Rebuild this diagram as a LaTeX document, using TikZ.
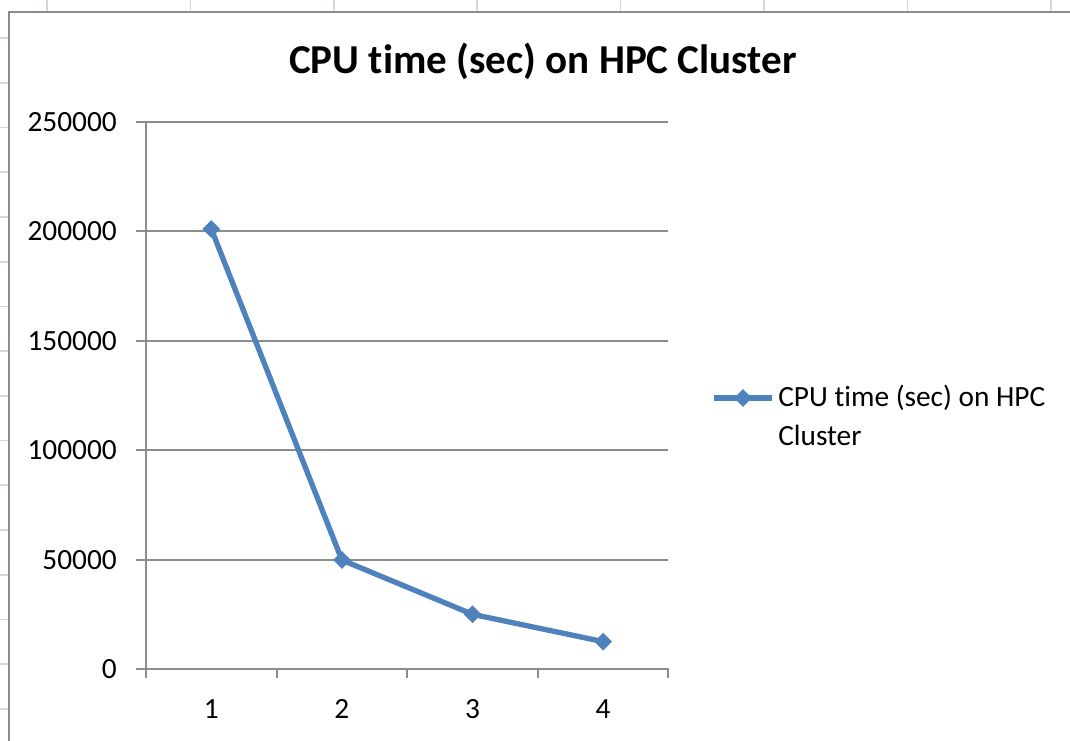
\documentclass[tikz,border=0pt]{standalone}
\usepackage{fontspec}
\setmainfont{Carlito}[Ligatures=NoCommon]
\usetikzlibrary{shapes.geometric}
\definecolor{series}{HTML}{4F81BD}
\definecolor{axisgray}{HTML}{8C8C8C}
\definecolor{sheetgrid}{HTML}{D0D7E5}
\begin{document}
\begin{tikzpicture}[x=0.75pt,y=-0.75pt,
  sheetline/.style={draw=sheetgrid,line width=1.3pt},
  frameline/.style={draw=axisgray,line width=1.5pt},
  gridline/.style={draw=axisgray,line width=1.4pt},
  serieslink/.style={draw=series,line width=4pt,line join=round,line cap=round},
  marker/.style={diamond,fill=series,draw=none,inner sep=0pt,minimum size=13.5pt},
  ticklabel/.style={font=\fontsize{22}{26}\selectfont,inner sep=0pt},
  titlelabel/.style={font=\fontsize{30.8}{36}\selectfont\bfseries,inner sep=0pt}]
\useasboundingbox (0,0) rectangle (1070,740);
% spreadsheet grid behind the chart
\foreach \i in {0,...,7} \draw[sheetline] ({47+143.4*\i},0) -- ({47+143.4*\i},12);
\foreach \i in {0,...,15} \draw[sheetline] (0,{38+44.73*\i}) -- (9,{38+44.73*\i});
% chart frame
\draw[frameline] (9,745) -- (9,12) -- (1075,12);
% title
\node[titlelabel,anchor=base] (title) at (543,73) {CPU time (sec) on HPC Cluster};
% horizontal gridlines and y labels
\foreach \k/\lab in {1/50000,2/100000,3/150000,4/200000,5/250000} {
  \draw[gridline] (136,{669-109.4*\k}) -- (668,{669-109.4*\k});
  \node[ticklabel,anchor=east] (y\k) at (117,{669-109.4*\k}) {\lab};
}
\node[ticklabel,anchor=east] (y0) at (117,669) {0};
% axes
\draw[gridline] (136,669) -- (669,669);
\draw[gridline] (146,122) -- (146,678);
\foreach \i in {1,...,4} \draw[gridline] ({146+130.6*\i},669) -- ({146+130.6*\i},678);
\foreach \i in {1,...,4} \node[ticklabel] (x\i) at ({146+130.6*(\i-0.5)},709) {\i};
% data
\coordinate (c1) at (211.3,229);
\coordinate (c2) at (341.9,560);
\coordinate (c3) at (472.5,614.3);
\coordinate (c4) at (603.1,641.6);
\draw[serieslink] (c1) -- (c2) -- (c3) -- (c4);
\node[marker] (p1) at (c1) {};
\node[marker] (p2) at (c2) {};
\node[marker] (p3) at (c3) {};
\node[marker] (p4) at (c4) {};
% legend
\coordinate (la) at (714,398);
\coordinate (lb) at (772,398);
\draw[serieslink,line cap=butt] (la) -- (lb);
\node[marker] (lm) at (743,398) {};
\node[ticklabel,anchor=west] (legtext) at (778,398) {CPU time (sec) on\ HPC};
\node[ticklabel,anchor=west] (legtext2) at (778,435) {Cluster};
\end{tikzpicture}
\end{document}
